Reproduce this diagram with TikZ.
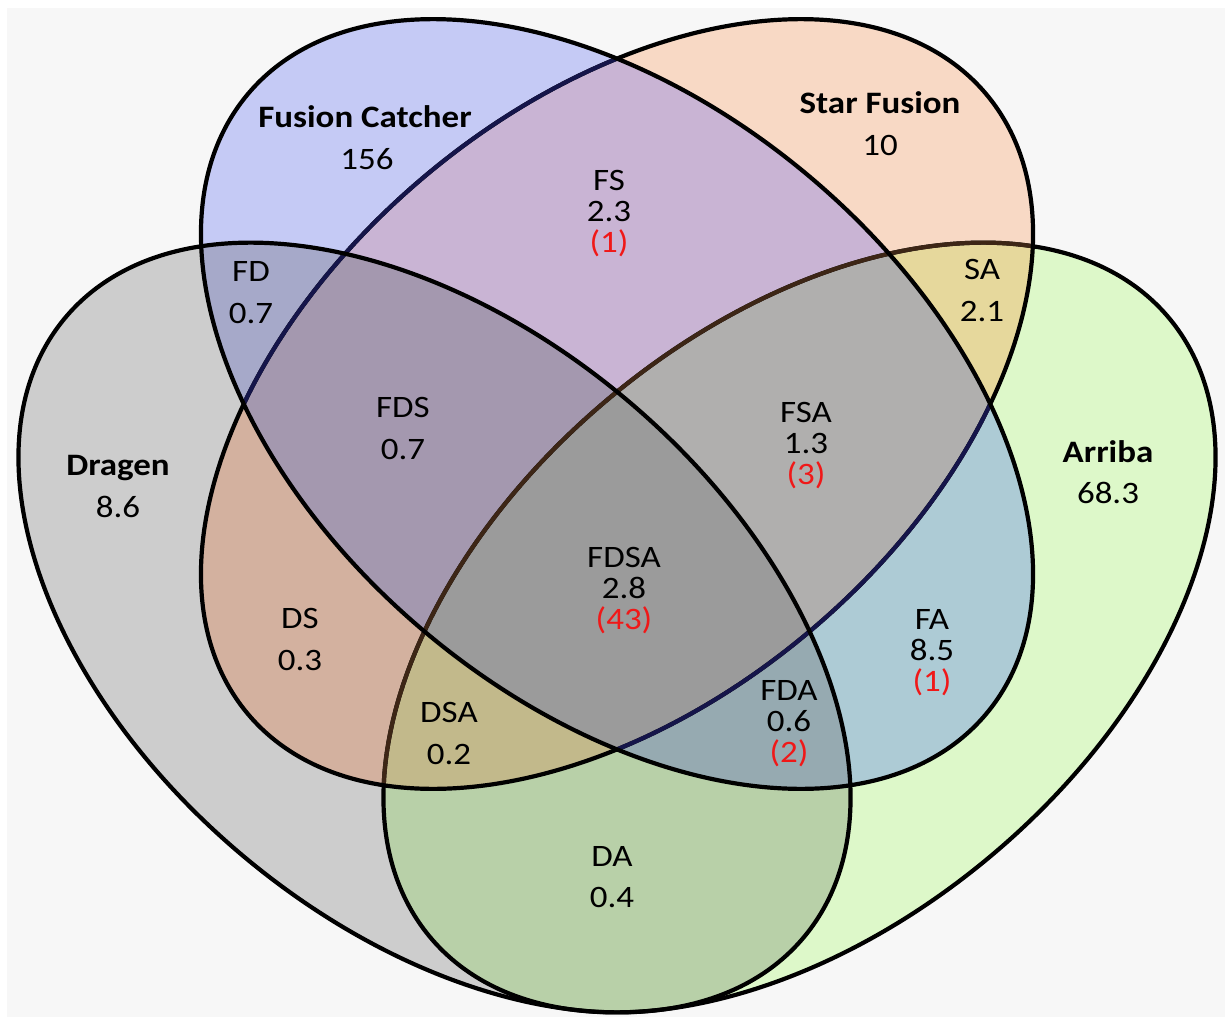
\documentclass[tikz,border=0pt]{standalone}
\usepackage{fontspec}
\setmainfont{Carlito}[FakeStretch=1.12]
\begin{document}
\begin{tikzpicture}[x=0.5pt,y=-0.5pt]
\definecolor{bgc}{HTML}{F7F7F7}
\definecolor{cF}{HTML}{C5CAF5}
\definecolor{cS}{HTML}{F8D9C5}
\definecolor{cD}{HTML}{CDCDCD}
\definecolor{cA}{HTML}{DDF8C9}
\definecolor{cFS}{HTML}{C9B4D4}
\definecolor{cFD}{HTML}{A6A9C9}
\definecolor{cFA}{HTML}{ADCBD5}
\definecolor{cSD}{HTML}{D3B19F}
\definecolor{cSA}{HTML}{E6D89C}
\definecolor{cDA}{HTML}{B8D0A8}
\definecolor{cFSD}{HTML}{A498AF}
\definecolor{cFSA}{HTML}{B0AFAE}
\definecolor{cFDA}{HTML}{96AAB1}
\definecolor{cSDA}{HTML}{C2B98B}
\definecolor{cFSDA}{HTML}{9B9B9B}
\definecolor{navyline}{HTML}{15154A}
\definecolor{brownline}{HTML}{3D2616}
\definecolor{redtxt}{HTML}{F01818}
\tikzset{
 rotF/.style={rotate around={-40:(617,404)}},
 rotS/.style={rotate around={40:(617,404)}},
 rotD/.style={rotate around={-40:(434.5,627.5)}},
 rotA/.style={rotate around={40:(799.5,627.5)}},
 outl/.style={line width=2.1pt},
 lbl/.style={anchor=base, inner sep=0pt, font=\fontsize{15.6}{18}\selectfont},
 ttl/.style={anchor=base, inner sep=0pt, font=\bfseries\fontsize{15.6}{18}\selectfont},
 cnt/.style={lbl, text=redtxt}
}
\def\Fp{(617,404) ellipse [x radius=241pt, y radius=149pt]}
\def\Sp{(617,404) ellipse [x radius=241pt, y radius=149pt]}
\def\Dp{(434.5,627.5) ellipse [x radius=241pt, y radius=149pt]}
\def\Ap{(799.5,627.5) ellipse [x radius=241pt, y radius=149pt]}
% background
\fill[white] (0,0) rectangle (1225,1017);
\fill[bgc] (7,8) rectangle (1225,1017);
\useasboundingbox (0,0) rectangle (1225,1017);
% singles
\fill[cF, rotF] \Fp;
\fill[cS, rotS] \Sp;
\fill[cD, rotD] \Dp;
\fill[cA, rotA] \Ap;
% pairs
\begin{scope}\clip[rotF] \Fp; \fill[cFS, rotS] \Sp;\end{scope}
\begin{scope}\clip[rotF] \Fp; \fill[cFD, rotD] \Dp;\end{scope}
\begin{scope}\clip[rotF] \Fp; \fill[cFA, rotA] \Ap;\end{scope}
\begin{scope}\clip[rotS] \Sp; \fill[cSD, rotD] \Dp;\end{scope}
\begin{scope}\clip[rotS] \Sp; \fill[cSA, rotA] \Ap;\end{scope}
\begin{scope}\clip[rotD] \Dp; \fill[cDA, rotA] \Ap;\end{scope}
% triples
\begin{scope}\clip[rotF] \Fp; \clip[rotS] \Sp; \fill[cFSD, rotD] \Dp;\end{scope}
\begin{scope}\clip[rotF] \Fp; \clip[rotS] \Sp; \fill[cFSA, rotA] \Ap;\end{scope}
\begin{scope}\clip[rotF] \Fp; \clip[rotD] \Dp; \fill[cFDA, rotA] \Ap;\end{scope}
\begin{scope}\clip[rotS] \Sp; \clip[rotD] \Dp; \fill[cSDA, rotA] \Ap;\end{scope}
% quadruple
\begin{scope}\clip[rotF] \Fp; \clip[rotS] \Sp; \clip[rotD] \Dp; \fill[cFSDA, rotA] \Ap;\end{scope}
% outlines
\draw[outl, black, rotA] \Ap;
\begin{scope}\clip[rotS] \Sp; \draw[outl, brownline, rotA] \Ap;\end{scope}
\draw[outl, black, rotS] \Sp;
\begin{scope}\clip[rotF] \Fp; \draw[outl, navyline, rotS] \Sp;\end{scope}
\draw[outl, black, rotF] \Fp;
\draw[outl, black, rotD] \Dp;
% set titles
\node[ttl] (tF) at (365,127) {Fusion Catcher};
\node[lbl] (nF) at (367,169) {156};
\node[ttl] (tS) at (880,113) {Star Fusion};
\node[lbl] (nS) at (880,155) {10};
\node[ttl] (tD) at (118,475) {Dragen};
\node[lbl] (nD) at (118,517) {8.6};
\node[ttl] (tA) at (1108,462) {Arriba};
\node[lbl] (nA) at (1108,503) {68.3};
% regions
\node[lbl] (lFS) at (609,190) {FS};
\node[lbl] (vFS) at (609,221) {2.3};
\node[cnt] (cFSn) at (609,252) {(1)};
\node[lbl] (lFD) at (251,281) {FD};
\node[lbl] (vFD) at (251,323) {0.7};
\node[lbl] (lSA) at (982,279) {SA};
\node[lbl] (vSA) at (982,321) {2.1};
\node[lbl] (lFDS) at (403,417) {FDS};
\node[lbl] (vFDS) at (403,459) {0.7};
\node[lbl] (lFSA) at (806,422) {FSA};
\node[lbl] (vFSA) at (806,453) {1.3};
\node[cnt] (cFSAn) at (806,484) {(3)};
\node[lbl] (lFDSA) at (624,567) {FDSA};
\node[lbl] (vFDSA) at (624,598) {2.8};
\node[cnt] (cFDSAn) at (624,629) {(43)};
\node[lbl] (lDS) at (300,628) {DS};
\node[lbl] (vDS) at (300,670) {0.3};
\node[lbl] (lFA) at (932,629) {FA};
\node[lbl] (vFA) at (932,660) {8.5};
\node[cnt] (cFAn) at (932,691) {(1)};
\node[lbl] (lDSA) at (449,722) {DSA};
\node[lbl] (vDSA) at (449,764) {0.2};
\node[lbl] (lFDA) at (789,700) {FDA};
\node[lbl] (vFDA) at (789,731) {0.6};
\node[cnt] (cFDAn) at (789,762) {(2)};
\node[lbl] (lDA) at (612,866) {DA};
\node[lbl] (vDA) at (612,907) {0.4};
\end{tikzpicture}
\end{document}
